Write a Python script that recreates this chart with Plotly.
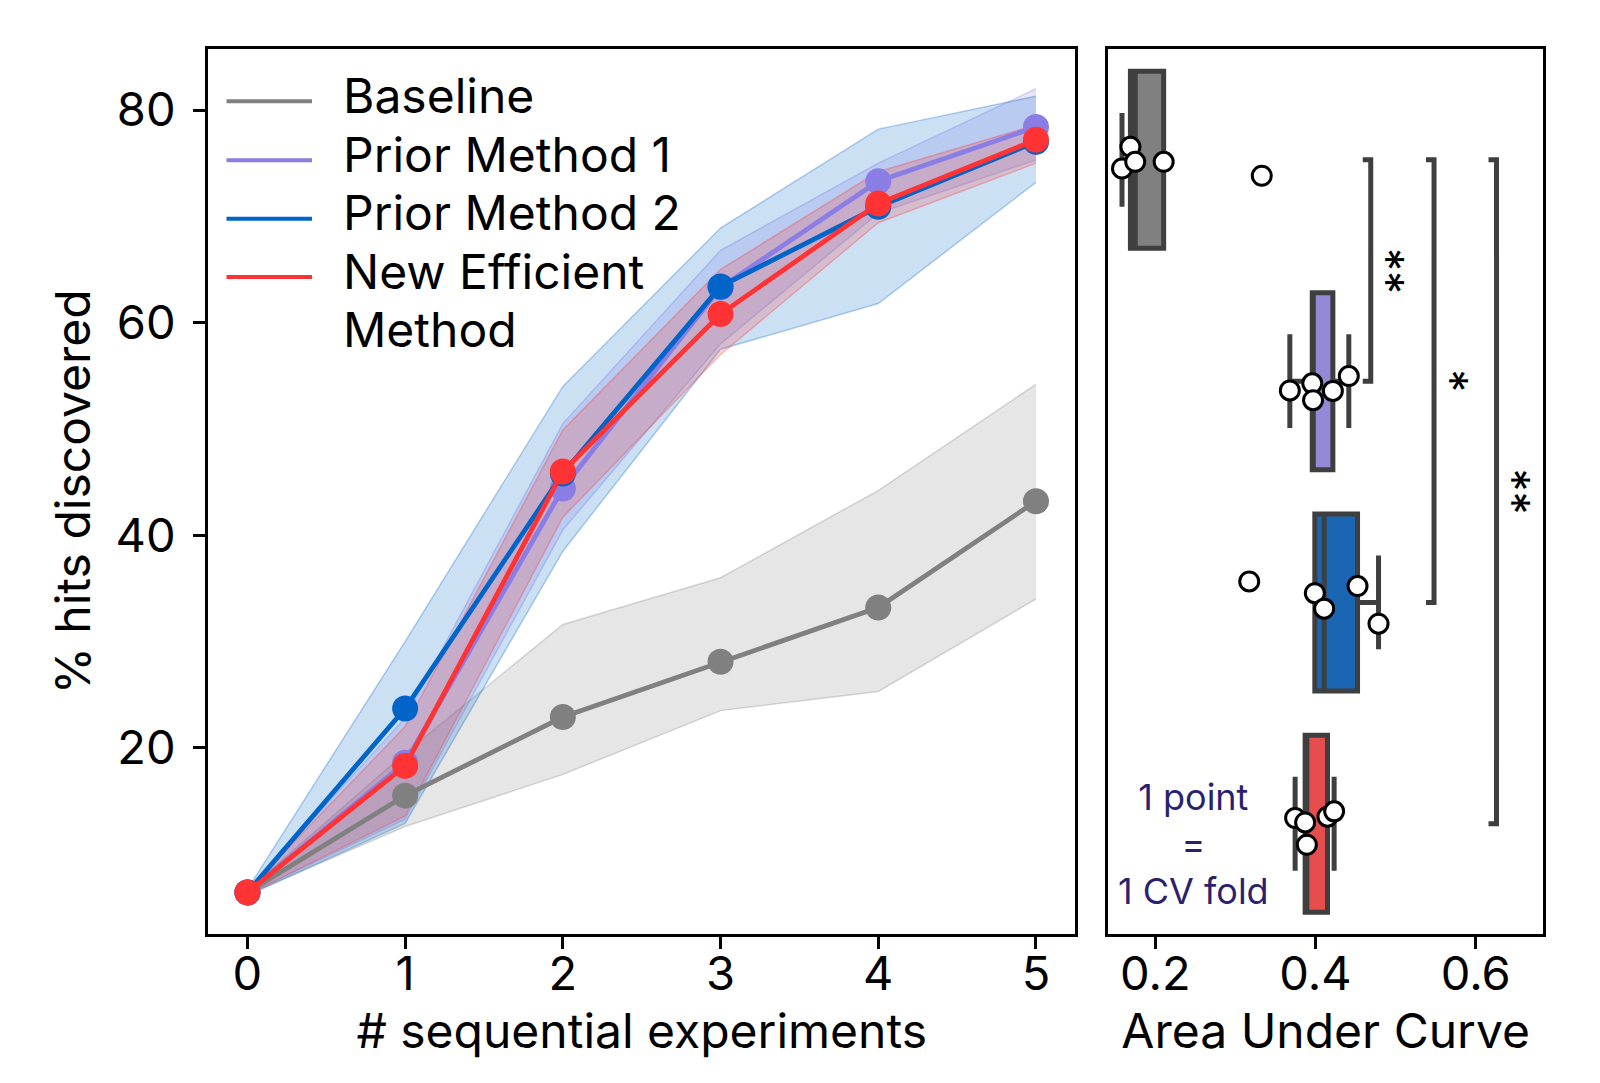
import numpy as np
import plotly.graph_objects as go

# ---------------- data ----------------
steps = [0, 1, 2, 3, 4, 5]
method_names = ["Baseline", "Prior Method 1", "Prior Method 2", "New Efficient Method"]

baseline_mean = [6.4, 15.5, 22.9, 28.1, 33.2, 43.2]
baseline_lo = [6.2, 12.6, 17.5, 23.5, 25.3, 34.0]
baseline_hi = [6.6, 19.5, 31.6, 36.0, 44.2, 54.2]

prior1_mean = [6.4, 18.6, 44.4, 63.3, 73.3, 78.4]
prior1_lo = [6.2, 13.3, 40.5, 58.0, 70.3, 75.3]
prior1_hi = [6.6, 22.8, 50.5, 66.8, 75.0, 82.0]

prior2_mean = [6.4, 23.7, 45.8, 63.4, 70.9, 77.0]
prior2_lo = [6.1, 12.9, 38.5, 57.5, 61.8, 73.2]
prior2_hi = [6.7, 30.0, 54.0, 68.9, 78.2, 81.3]

new_mean = [6.4, 18.3, 46.0, 60.8, 71.2, 77.2]
new_lo = [6.2, 13.6, 41.7, 57.0, 69.4, 75.0]
new_hi = [6.6, 22.0, 49.9, 65.0, 74.2, 78.6]

# Area under curve, one value per CV fold
auc_baseline = [0.1585, 0.169, 0.175, 0.2105, 0.333]
auc_prior1 = [0.368, 0.396, 0.397, 0.4217, 0.4416]
auc_prior2 = [0.3173, 0.3992, 0.4108, 0.4525, 0.4787]
auc_new = [0.3746, 0.3871, 0.3892, 0.415, 0.4233]

# strip-plot jitter (category units)
jit_baseline = [0.039, -0.059, 0.009, 0.009, 0.072]
jit_prior1 = [0.042, 0.010, 0.086, 0.044, -0.023]
jit_prior2 = [-0.095, -0.042, 0.028, -0.074, 0.096]
jit_new = [-0.026, -0.006, 0.095, -0.032, -0.056]

# significance brackets: (from category, to category, x position, label)
sig_from = [0, 0, 0]
sig_to = [1, 2, 3]
sig_xpos = [0.469, 0.548, 0.626]
sig_label = ["**", "*", "**"]

x_ticks_left = [0, 1, 2, 3, 4, 5]
y_ticks_left = [20, 40, 60, 80]
x_ticks_right = [0.2, 0.4, 0.6]

# ---------------- styles ----------------
line_colors = ["#808080", "#8a7de4", "#0064c8", "#ff3333"]
band_rgb = [(128, 128, 128), (138, 125, 228), (0, 100, 200), (255, 51, 51)]
box_fill = ["#808080", "#9489d7", "#1a66b3", "#e64d4d"]
box_edge = "#3f3f3f"
FONT = "Inter"
PAGE_MARGIN = 8          # default body margin of the html page
W, H = 1600 - 2 * PAGE_MARGIN, 1083 - 2 * PAGE_MARGIN


def px_x(p):
    return (p - PAGE_MARGIN) / W


def px_y(p):
    return 1 - (p - PAGE_MARGIN) / H


means = [baseline_mean, prior1_mean, prior2_mean, new_mean]
los = [baseline_lo, prior1_lo, prior2_lo, new_lo]
his = [baseline_hi, prior1_hi, prior2_hi, new_hi]
aucs = [auc_baseline, auc_prior1, auc_prior2, auc_new]
jits = [jit_baseline, jit_prior1, jit_prior2, jit_new]

fig = go.Figure()

# ---------------- left panel: bands first ----------------
for i in range(4):
    r, g, b = band_rgb[i]
    fig.add_trace(go.Scatter(
        x=steps, y=los[i], mode="lines",
        line=dict(color=f"rgba({r},{g},{b},0.3)", width=1.5),
        showlegend=False, hoverinfo="skip", xaxis="x", yaxis="y"))
    fig.add_trace(go.Scatter(
        x=steps, y=his[i], mode="lines", fill="tonexty",
        fillcolor=f"rgba({r},{g},{b},0.2)",
        line=dict(color=f"rgba({r},{g},{b},0.3)", width=1.5),
        showlegend=False, hoverinfo="skip", xaxis="x", yaxis="y"))

# ---------------- left panel: mean lines ----------------
for i in range(4):
    fig.add_trace(go.Scatter(
        x=steps, y=means[i], mode="lines+markers", name=method_names[i],
        line=dict(color=line_colors[i], width=4.8),
        marker=dict(color=line_colors[i], size=26),
        showlegend=False, xaxis="x", yaxis="y"))

# ---------------- right panel ----------------
for i in range(4):
    vals = np.array(aucs[i])
    q1, med, q3 = np.percentile(vals, [25, 50, 75])
    iqr = q3 - q1
    lo_f = vals[vals >= q1 - 1.5 * iqr].min()
    hi_f = vals[vals <= q3 + 1.5 * iqr].max()
    fig.add_trace(go.Box(
        y=[i], q1=[q1], median=[med], q3=[q3],
        lowerfence=[lo_f], upperfence=[hi_f],
        orientation="h", width=0.8, whiskerwidth=0.53,
        fillcolor=box_fill[i], line=dict(color=box_edge, width=5),
        boxpoints=False, showlegend=False, xaxis="x2", yaxis="y2"))

for i in range(4):
    fig.add_trace(go.Scatter(
        x=aucs[i], y=[i + j for j in jits[i]], mode="markers",
        marker=dict(color="white", size=19, line=dict(color="black", width=3)),
        showlegend=False, xaxis="x2", yaxis="y2"))

shapes = []
annotations = []
tick_len = 0.010
for a, bcat, xs, lab in zip(sig_from, sig_to, sig_xpos, sig_label):
    shapes.append(dict(
        type="path", xref="x2", yref="y2",
        path=f"M {xs - tick_len},{a} L {xs},{a} L {xs},{bcat} L {xs - tick_len},{bcat}",
        line=dict(color=box_edge, width=5)))
    annotations.append(dict(
        x=xs + 0.021, y=(a + bcat) / 2, xref="x2", yref="y2",
        text=lab, showarrow=False, textangle=90,
        font=dict(family=FONT, size=46, color="black"),
        xanchor="center", yanchor="middle"))

annotations.append(dict(
    x=0.248, y=3.09, xref="x2", yref="y2",
    text="1 point<br>=<br>1 CV fold", showarrow=False,
    font=dict(family=FONT, size=36, color="#2b1f70"),
    align="center", xanchor="center", yanchor="middle"))

# ---------------- manual legend ----------------
leg_line_y = [101.3, 160.3, 218.7, 277.0]
leg_text = ["Baseline", "Prior Method 1", "Prior Method 2", "New Efficient"]
for i in range(4):
    shapes.append(dict(
        type="line", xref="paper", yref="paper",
        x0=px_x(226.5), x1=px_x(312), y0=px_y(leg_line_y[i]), y1=px_y(leg_line_y[i]),
        line=dict(color=line_colors[i], width=4)))
    annotations.append(dict(
        x=px_x(341), y=px_y(leg_line_y[i] - 6), xref="paper", yref="paper",
        text=leg_text[i], showarrow=False, xanchor="left", yanchor="middle",
        font=dict(family=FONT, size=48, color="black")))
annotations.append(dict(
    x=px_x(341), y=px_y(leg_line_y[3] + 58.3 - 6), xref="paper", yref="paper",
    text="Method", showarrow=False, xanchor="left", yanchor="middle",
    font=dict(family=FONT, size=48, color="black")))

axis_common = dict(
    showline=True, mirror=True, linecolor="black", linewidth=3,
    ticks="outside", ticklen=12, tickwidth=3, tickcolor="black",
    showgrid=False, zeroline=False, automargin=False,
    tickfont=dict(family=FONT, size=47, color="black"),
)
title_font = dict(family=FONT, size=48, color="black")

fig.update_layout(
    width=W, height=H,
    margin=dict(l=0, r=0, t=0, b=0),
    paper_bgcolor="white", plot_bgcolor="white",
    showlegend=False,
    font=dict(family=FONT, color="black"),
    xaxis=dict(domain=[px_x(208), px_x(1075.4)], range=[-0.25, 5.25],
               tickvals=x_ticks_left, anchor="y", ticklabelstandoff=-16,
               title=dict(text="# sequential experiments", standoff=0, font=title_font),
               **axis_common),
    yaxis=dict(domain=[px_y(934.4), px_y(49.2)], range=[2.45, 85.72],
               tickvals=y_ticks_left, anchor="x", ticklabelstandoff=8,
               title=dict(text="% hits discovered", standoff=10, font=title_font),
               **axis_common),
    xaxis2=dict(domain=[px_x(1108.3), px_x(1543)], range=[0.1414, 0.684],
                tickvals=x_ticks_right, ticktext=["0.2", "0.4", "0.6"], anchor="y2",
                ticklabelstandoff=-16,
                title=dict(text="Area Under Curve", standoff=0, font=title_font),
                **axis_common),
    yaxis2=dict(domain=[px_y(934.4), px_y(49.2)], range=[3.5, -0.5], anchor="x2",
                showline=True, mirror=True, linecolor="black", linewidth=3,
                ticks="", showticklabels=False, showgrid=False, zeroline=False),
    shapes=shapes,
    annotations=annotations,
)

fig.write_html("out.html")
